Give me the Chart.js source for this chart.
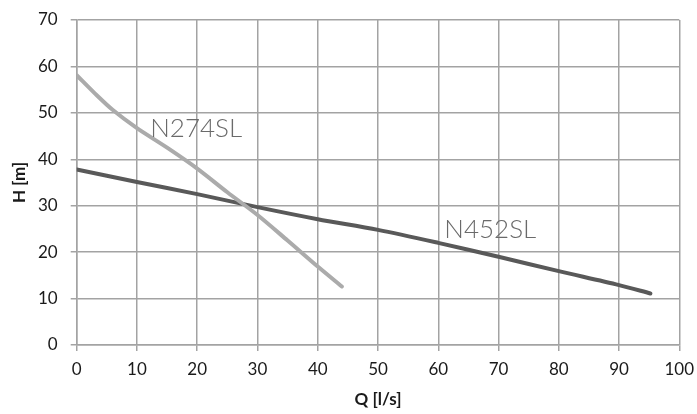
<!DOCTYPE html>
<html><head><meta charset="utf-8">
<script src="https://cdn.jsdelivr.net/npm/chart.js@4"></script>
<style>html,body{margin:0;padding:0;background:#fff;}canvas{display:block;}</style>
</head><body>
<canvas id="c" width="697" height="414"></canvas>
<script>
const seriesNames = ["N274SL", "N452SL"];
const n274Q = [0, 3, 6, 10, 15, 20, 25, 30, 35, 40, 44];
const n274H = [58.1, 54.2, 50.6, 46.7, 42.5, 38.0, 32.9, 28.0, 22.5, 16.9, 12.6];
const n452Q = [0, 10, 20, 30, 40, 50, 60, 70, 80, 90, 95.2];
const n452H = [37.8, 35.1, 32.5, 29.7, 27.1, 24.8, 22.0, 19.0, 15.9, 12.9, 11.1];
const labelQ = [12.2, 61.0];
const labelH = [46.5, 24.8];
const xTicks = [0,10,20,30,40,50,60,70,80,90,100];
const yTicks = [0,10,20,30,40,50,60,70];
const xTitle = "Q [l/s]";
const yTitle = "H [m]";

const colors = ["#ababab", "#595959"];
const labelColors = ["#6a6a6a", "#6a6a6a"];
const fam = "Lato, 'Open Sans', sans-serif";
const tickFont = {family: fam, size: 17};

const labelPlugin = {
  id: 'seriesLabels',
  afterDatasetsDraw(chart) {
    const ctx = chart.ctx, xs = chart.scales.x, ys = chart.scales.y;
    ctx.save();
    ctx.font = "300 26px " + fam;
    ctx.textBaseline = 'middle';
    ctx.textAlign = 'left';
    seriesNames.forEach((n, i) => {
      ctx.fillStyle = labelColors[i];
      ctx.fillText(n, xs.getPixelForValue(labelQ[i]), ys.getPixelForValue(labelH[i]));
    });
    ctx.restore();
  }
};

new Chart(document.getElementById('c'), {
  type: 'scatter',
  data: {
    datasets: [
      {label: seriesNames[0], data: n274Q.map((q,i)=>({x:q,y:n274H[i]})), showLine: true,
       borderColor: colors[0], borderWidth: 4, pointRadius: 0, tension: 0.3, borderCapStyle: 'round'},
      {label: seriesNames[1], data: n452Q.map((q,i)=>({x:q,y:n452H[i]})), showLine: true,
       borderColor: colors[1], borderWidth: 4, pointRadius: 0, tension: 0.3, borderCapStyle: 'round'}
    ]
  },
  options: {
    responsive: false, animation: false,
    layout: {padding: {left: 0, right: 17.7, top: 20, bottom: 0}},
    plugins: {legend: {display: false}, tooltip: {enabled: false}},
    scales: {
      x: {
        type: 'linear', min: 0, max: 100,
        afterBuildTicks: s => { s.ticks = xTicks.map(v => ({value: v})); },
        afterFit: s => { s.height = 69; s.paddingLeft = 0; s.paddingRight = 0; },
        grid: {color: '#a3a3a3', lineWidth: 1.5, tickLength: 6, drawTicks: true},
        border: {color: '#a3a3a3', width: 1.5},
        ticks: {color: '#1a1a1a', font: tickFont, padding: 8, maxRotation: 0},
        title: {display: true, text: xTitle, color: '#1a1a1a', font: {family: fam, size: 17, weight: 'bold'}, padding: {top: 0}}
      },
      y: {
        type: 'linear', min: 0, max: 70,
        afterBuildTicks: s => { s.ticks = yTicks.map(v => ({value: v})); },
        afterFit: s => { s.width = 76.7; s.paddingTop = 0; s.paddingBottom = 0; },
        grid: {color: '#a3a3a3', lineWidth: 1.5, tickLength: 6, drawTicks: true},
        border: {color: '#a3a3a3', width: 1.5},
        ticks: {color: '#1a1a1a', font: tickFont, padding: 13},
        title: {display: true, text: yTitle, color: '#1a1a1a', font: {family: fam, size: 17, weight: 'bold'}, padding: {top: 9, bottom: 0}}
      }
    }
  },
  plugins: [labelPlugin]
});
</script>
</body></html>
